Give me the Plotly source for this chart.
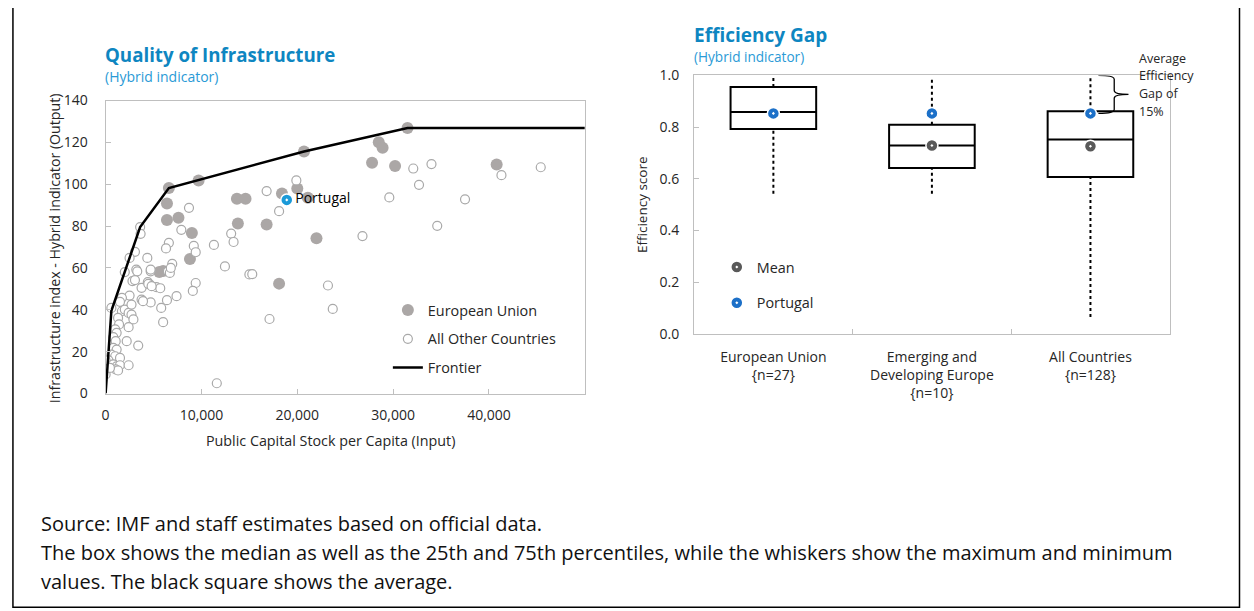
import plotly.graph_objects as go

W, H = 1254, 611
FONT = "Open Sans"

# ---------------- Left panel data (x in US$, y index) ----------------
eu_x = [6600, 6400, 9700, 6400, 7600, 9000, 8800, 5600, 6000, 13700, 14600, 13800,
        16800, 18400, 20000, 20700, 21100, 22000, 18100, 27800, 28500, 28900,
        31500, 30200, 40800]
eu_y = [98.2, 90.8, 101.8, 82.9, 84.0, 76.7, 64.3, 58.1, 58.5, 93.0, 93.0, 81.2,
        80.7, 95.6, 97.9, 115.6, 93.5, 74.2, 52.5, 110.3, 120.1, 117.4,
        126.9, 108.7, 109.4]

other_x = [19900, 16800, 18100, 8700, 7900, 3600, 3650, 6600, 6300, 9200, 9400, 11300,
           13100, 13350, 12450, 15000, 15300, 23200, 23700, 17100, 11600, 26800, 29600,
           34000, 32100, 32700, 37500, 41300, 45400, 34600,
           3060, 2500, 4350, 3200, 3300, 2000, 4700, 2800, 3060, 4400, 4600, 3750, 5300,
           5700, 6500, 6700, 6950, 6800, 9400, 9100, 7400, 6400, 5800, 6000, 4700, 3750,
           3900, 2500, 1700, 1500, 600, 1700, 2000, 2400, 2700, 2900, 2400, 1300, 1400,
           1000, 1150, 800, 1050, 2200, 3400, 800, 1150, 600, 1000, 1500, 300, 0, 800,
           1150, 1500, 2400, 1050, 1300, 0, 450, 2700, 4450, 4800, 4700]
other_y = [101.8, 96.7, 87.1, 88.7, 78.2, 79.5, 76.3, 72.0, 69.3, 70.5, 67.5, 71.0,
           76.4, 72.4, 60.7, 56.9, 57.0, 51.6, 40.4, 35.6, 4.9, 75.2, 93.7,
           109.6, 107.5, 99.7, 92.8, 104.3, 108.1, 80.1,
           67.7, 64.8, 64.8, 59.2, 58.4, 58.0, 58.4, 53.7, 54.2, 53.2, 52.1, 50.5, 50.8,
           50.3, 58.4, 57.6, 61.9, 60.0, 52.8, 49.0, 46.5, 44.6, 40.9, 34.1, 43.5, 44.9,
           44.1, 46.8, 45.7, 43.8, 40.9, 39.3, 40.1, 38.5, 37.7, 35.4, 31.7, 36.1, 33.0,
           30.6, 29.0, 26.9, 25.0, 25.0, 22.9, 21.8, 21.0, 18.6, 17.8, 17.0, 15.8, 15.8, 13.9,
           13.0, 13.5, 13.5, 11.5, 11.0, 9.1, 12.2, 42.5, 52.4, 51.3, 59.2]

frontier_x = [0, 600, 3600, 6600, 20700, 31500, 50000]
frontier_y = [0, 39.5, 79.5, 98.2, 115.6, 126.9, 126.9]

portugal_x = [18900]
portugal_y = [92.5]

x_ticks = [0, 10000, 20000, 30000, 40000]
y_ticks = [0, 20, 40, 60, 80, 100, 120, 140]

# ---------------- Right panel data (efficiency scores) ----------------
box_labels = ["European Union<br>{n=27}",
              "Emerging and<br>Developing Europe<br>{n=10}",
              "All Countries<br>{n=128}"]
box_min = [0.542, 0.542, 0.065]
box_q1 = [0.793, 0.642, 0.607]
box_median = [0.858, 0.729, 0.752]
box_q3 = [0.955, 0.809, 0.861]
box_max = [1.0, 0.986, 1.0]
box_mean = [0.851, 0.729, 0.726]
portugal_score = [0.853, 0.853, 0.853]

BLUE_L = "#1B9AD8"
BLUE_R = "#1C70C8"
GRAY_EU = "#ABA7A6"
GRAY_OTH = "#A9A9A9"
MEAN_C = "#595959"
TITLE_C = "#0E86C1"
SUB_C = "#2A9AD6"
AX_C = "#BFBFBF"
TXT_C = "#262626"

# screen-pixel -> paper mapping (empirically calibrated)
OX, OY, SY = 12.5, 16.8, 592.0


def px(x):
    return ((x + 0.4) / 0.997 - OX) / W


def py(y):
    return 1 - (y - OY) / SY


fig = go.Figure()

# Left panel
fig.add_trace(go.Scatter(x=eu_x, y=eu_y, mode="markers", name="European Union",
                         marker=dict(size=12, color=GRAY_EU, line=dict(width=0)),
                         legendgroup="a", legend="legend", hoverinfo="skip"))
fig.add_trace(go.Scatter(x=other_x, y=other_y, mode="markers", name="All Other Countries",
                         marker=dict(size=9, color="white", symbol="circle",
                                     line=dict(width=1.2, color=GRAY_OTH)),
                         legendgroup="b", legend="legend", hoverinfo="skip"))
fig.add_trace(go.Scatter(x=frontier_x, y=frontier_y, mode="lines", name="Frontier",
                         line=dict(color="black", width=2.5),
                         legendgroup="c", legend="legend", hoverinfo="skip"))
fig.add_trace(go.Scatter(x=portugal_x, y=portugal_y, mode="markers+text", text=["Portugal"],
                         textposition="middle right",
                         textfont=dict(family=FONT, size=14, color="black"),
                         marker=dict(size=12, color=BLUE_L, symbol="circle-dot",
                                     line=dict(width=1.5, color="white")),
                         showlegend=False, hoverinfo="skip"))

# Right panel: whiskers (dotted), boxes, mean & Portugal markers
wx, wy = [], []
for i in range(len(box_labels)):
    wx += [i, i, None, i, i, None]
    wy += [box_q3[i], box_max[i], None, box_min[i], box_q1[i], None]
fig.add_trace(go.Scatter(x=wx, y=wy, mode="lines", xaxis="x2", yaxis="y2",
                         line=dict(color="black", width=2, dash="dot"),
                         showlegend=False, hoverinfo="skip"))
fig.add_trace(go.Box(x=list(range(len(box_labels))), q1=box_q1, median=box_median,
                     q3=box_q3, lowerfence=box_q1, upperfence=box_q3,
                     width=0.54, whiskerwidth=0, fillcolor="white",
                     line=dict(color="black", width=2), boxpoints=False,
                     xaxis="x2", yaxis="y2", showlegend=False, hoverinfo="skip"))
fig.add_trace(go.Scatter(x=list(range(len(box_labels))), y=box_mean, mode="markers",
                         name="Mean", xaxis="x2", yaxis="y2",
                         marker=dict(size=12, color=MEAN_C, symbol="circle-dot",
                                     line=dict(width=1.5, color="white")),
                         legend="legend2", legendgroup="m", hoverinfo="skip"))
fig.add_trace(go.Scatter(x=list(range(len(box_labels))), y=portugal_score, mode="markers",
                         name="Portugal", xaxis="x2", yaxis="y2",
                         marker=dict(size=12, color=BLUE_R, symbol="circle-dot",
                                     line=dict(width=1.5, color="white")),
                         legend="legend2", legendgroup="p", hoverinfo="skip"))

tickfont = dict(family=FONT, size=14, color=TXT_C)

fig.update_layout(
    width=W, height=H,
    margin=dict(l=0, r=0, t=0, b=0),
    paper_bgcolor="white", plot_bgcolor="white",
    font=dict(family=FONT, color=TXT_C),
    xaxis=dict(domain=[px(105.7), px(585)], range=[0, 50000], tickvals=x_ticks,
               tickformat=",", showgrid=False, zeroline=False, showline=True,
               linecolor=AX_C, linewidth=1, mirror=True, ticks="inside", ticklen=5,
               tickcolor=AX_C, tickfont=tickfont, ticklabelstandoff=9),
    yaxis=dict(domain=[py(392.3), py(99.3)], range=[0, 140], tickvals=y_ticks,
               showgrid=False, zeroline=False, showline=True, linecolor=AX_C,
               linewidth=1, mirror=True, ticks="inside", ticklen=5, tickcolor=AX_C,
               tickfont=tickfont, ticklabelstandoff=14),
    xaxis2=dict(domain=[px(694.3), px(1170)], range=[-0.5, 2.5], type="linear",
                tickvals=[0, 1, 2], ticktext=box_labels, ticks="",
                showgrid=False, zeroline=False, showline=True, linecolor=AX_C,
                linewidth=1, mirror=True, tickfont=tickfont, ticklabelstandoff=10,
                minor=dict(tickmode="array", tickvals=[0.5, 1.5], ticks="inside",
                           ticklen=5, tickcolor=AX_C, showgrid=False),
                anchor="y2"),
    yaxis2=dict(domain=[py(332.7), py(74.2)], range=[0, 1.0], dtick=0.2,
                tickformat=".1f", showgrid=False, zeroline=False, showline=True,
                linecolor=AX_C, linewidth=1, mirror=True, ticks="inside", ticklen=5,
                tickcolor=AX_C, tickfont=tickfont, ticklabelstandoff=11, anchor="x2"),
    legend=dict(x=px(388), y=py(293), xanchor="left", yanchor="top",
                bgcolor="rgba(0,0,0,0)", font=dict(family=FONT, size=14.4, color=TXT_C),
                traceorder="grouped", tracegroupgap=7, itemwidth=30),
    legend2=dict(x=px(717), y=py(250), xanchor="left", yanchor="top",
                 bgcolor="rgba(0,0,0,0)", font=dict(family=FONT, size=14.4, color=TXT_C),
                 traceorder="grouped", tracegroupgap=14, itemwidth=30),
    showlegend=True,
)

ann = []


def add_text(text, x, y, size, color=TXT_C, bold=False, xanchor="left", angle=0):
    t = f"<b>{text}</b>" if bold else text
    ann.append(dict(text=t, x=px(x), y=py(y), xref="paper", yref="paper",
                    xanchor=xanchor, yanchor="middle", showarrow=False, textangle=angle,
                    font=dict(family=FONT, size=size, color=color)))


add_text("Quality of Infrastructure", 103, 53, 18.7, TITLE_C, bold=True)
add_text("(Hybrid indicator)", 103, 75, 14, SUB_C)
add_text("Efficiency Gap", 692, 34, 19, TITLE_C, bold=True)
add_text("(Hybrid indicator)", 692, 55, 13.6, SUB_C)
add_text("Infrastructure index - Hybrid indicator (Output)", 54, 247, 14.2,
         xanchor="center", angle=-90)
add_text("Public Capital Stock per Capita (Input)", 331, 439, 14.3, xanchor="center")
add_text("Efficiency score", 642, 203, 13.5, xanchor="center", angle=-90)
for txt, yy in [("Average", 57), ("Efficiency", 74), ("Gap of", 92), ("15%", 110)]:
    add_text(txt, 1137, yy, 12.5)
add_text("Source: IMF and staff estimates based on official data.", 39, 522, 20, "#111111")
add_text("The box shows the median as well as the 25th and 75th percentiles, while the whiskers "
         "show the maximum and minimum", 39, 551, 20, "#111111")
add_text("values. The black square shows the average.", 39, 580, 20, "#111111")
fig.update_layout(annotations=ann)

# brace between the top whisker and Portugal's score in "All Countries"
top, bot = box_max[2], portugal_score[2]
mid = (top + bot) / 2
xa, xb, xc = 2.05, 2.15, 2.24
d = 0.015
brace = (f"M {xa},{top} Q {xb},{top} {xb},{top - d} L {xb},{mid + d} "
         f"Q {xb},{mid} {xc},{mid} Q {xb},{mid} {xb},{mid - d} L {xb},{bot + d} "
         f"Q {xb},{bot} {xa},{bot}")
fig.add_shape(type="path", path=brace, xref="x2", yref="y2",
              line=dict(color="black", width=1.3))

# outer frame
fig.add_shape(type="rect", xref="paper", yref="paper", x0=px(13), x1=0.982,
              y0=py(606), y1=1.05, line=dict(color="black", width=1.5))

fig.write_html("out.html")
